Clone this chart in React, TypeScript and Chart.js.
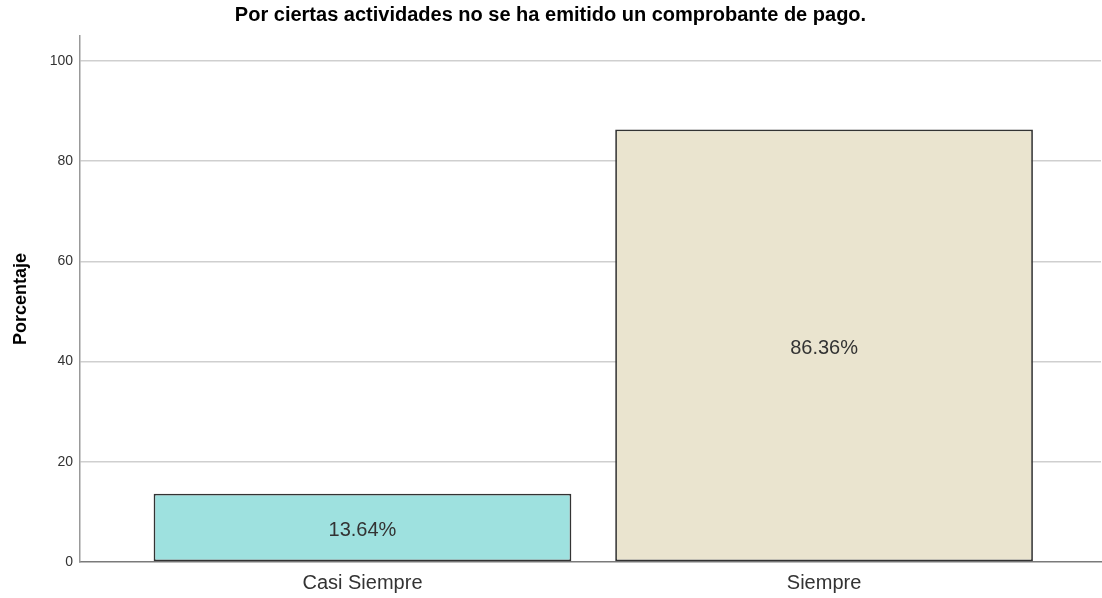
import React, { useEffect, useRef } from "react";
import { Chart, registerables } from "chart.js";

Chart.register(...registerables);

const chartTitle = "Por ciertas actividades no se ha emitido un comprobante de pago.";
const yAxisTitle = "Porcentaje";
const categories = ["Casi Siempre", "Siempre"];
const percentages = [13.64, 86.36];
const barColors = ["#9EE1DF", "#EAE4CF"];
const yTicks = [0, 20, 40, 60, 80, 100];

const FONT = "'Liberation Sans', Arial, sans-serif";

const valueLabels = {
  id: "valueLabels",
  afterDatasetsDraw(chart: any) {
    const ctx = chart.ctx;
    const meta = chart.getDatasetMeta(0);
    ctx.save();
    ctx.font = `20px ${FONT}`;
    ctx.fillStyle = "#333333";
    ctx.textAlign = "center";
    ctx.textBaseline = "middle";
    meta.data.forEach((bar: any, i: number) => {
      const y = (bar.y + bar.base) / 2 + 3;
      ctx.fillText(percentages[i].toFixed(2) + "%", bar.x, y);
    });
    ctx.restore();
  },
};

export default function App() {
  const ref = useRef<HTMLCanvasElement>(null);

  useEffect(() => {
    document.body.style.margin = "0";
    const canvas = ref.current!;
    const chart = new Chart(canvas, {
      type: "bar",
      data: {
        datasets: [
          {
            data: categories.map((c, i) => ({ x: i, y: percentages[i] })),
            backgroundColor: barColors,
            borderColor: "#333333",
            borderWidth: 1.75,
            borderSkipped: false,
            categoryPercentage: 1,
            barPercentage: 0.905,
          },
        ],
      },
      plugins: [valueLabels],
      options: {
        responsive: false,
        animation: false,
        layout: { padding: { left: 0, right: 1, top: 0, bottom: 0 } },
        plugins: {
          legend: { display: false },
          tooltip: { enabled: false },
          title: {
            display: true,
            text: chartTitle,
            color: "#000000",
            font: { family: FONT, size: 20, weight: "bold" },
            padding: { top: 3, bottom: 9 },
          },
        },
        scales: {
          x: {
            type: "linear",
            min: -0.612,
            max: 1.6,
            offset: false,
            afterBuildTicks: (scale: any) => {
              scale.ticks = categories.map((_, i) => ({ value: i }));
            },
            afterFit: (scale: any) => {
              scale.height = 36;
            },
            ticks: {
              callback: (v: any) => categories[Math.round(Number(v))] ?? "",
              color: "#333333",
              font: { family: FONT, size: 20 },
              padding: 9,
              maxRotation: 0,
              autoSkip: false,
            },
            grid: { display: false, drawTicks: false, offset: false },
            border: { display: true, color: "#7a7a7a", width: 1.5 },
          },
          y: {
            type: "linear",
            min: 0,
            max: 105,
            afterBuildTicks: (scale: any) => {
              scale.ticks = yTicks.map((v) => ({ value: v }));
            },
            afterFit: (scale: any) => {
              scale.width = 80;
            },
            ticks: {
              color: "#333333",
              font: { family: FONT, size: 14 },
              padding: 7,
            },
            grid: {
              color: (c: any) => (c.tick && c.tick.value === 0 ? "rgba(0,0,0,0)" : "#cfcfcf"),
              lineWidth: 1.5,
              drawTicks: false,
            },
            border: { display: true, color: "#999999", width: 1.5 },
            title: {
              display: true,
              text: yAxisTitle,
              color: "#000000",
              font: { family: FONT, size: 18, weight: "bold" },
              padding: { top: 10, bottom: 0 },
            },
          },
        },
      },
    } as any);
    return () => chart.destroy();
  }, []);

  return (
    <div style={{ width: 1102, height: 598 }}>
      <canvas ref={ref} width={1102} height={598} style={{ display: "block" }} />
    </div>
  );
}
